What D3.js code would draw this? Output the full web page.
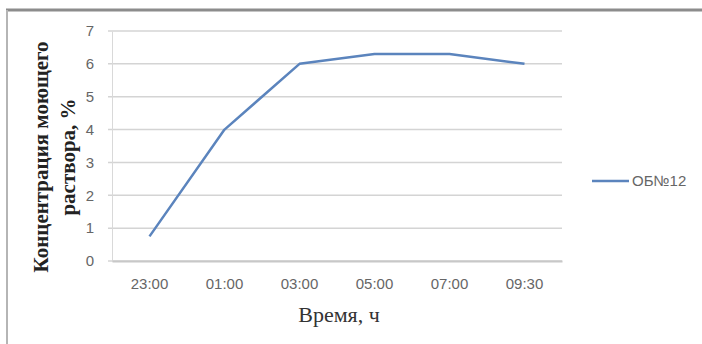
<!DOCTYPE html>
<html>
<head>
<meta charset="utf-8">
<script src="https://cdn.jsdelivr.net/npm/d3@7"></script>
<style>
  body { margin: 0; background: #fff; }
  svg { display: block; }
</style>
</head>
<body>
<svg width="702" height="344"></svg>
<script>
// chart data
const categories = ["23:00", "01:00", "03:00", "05:00", "07:00", "09:30"];
const values = [0.75, 4.0, 6.0, 6.3, 6.3, 6.0];
const yTicks = [0, 1, 2, 3, 4, 5, 6, 7];
const seriesName = "ОБ№12";
const yTitle = ["Концентрация моющего", "раствора, %"];
const xTitle = "Время, ч";

const svg = d3.select("svg");
const width = +svg.attr("width");
const height = +svg.attr("height");

const plot = { left: 112, right: 562, top: 31, bottom: 261 };

// frame of the chart
svg.append("rect").attr("x", 0).attr("y", 0).attr("width", width).attr("height", height).attr("fill", "#fff");
svg.append("line").attr("x1", 6).attr("x2", width).attr("y1", 10).attr("y2", 10)
  .attr("stroke", "#8c8c8c").attr("stroke-width", 3);
svg.append("line").attr("x1", 7).attr("x2", 7).attr("y1", 10).attr("y2", height)
  .attr("stroke", "#b5b5b5").attr("stroke-width", 2);

const x = d3.scaleBand()
  .domain(categories)
  .range([plot.left, plot.right]);

const y = d3.scaleLinear()
  .domain([0, 7])
  .range([plot.bottom, plot.top]);

// horizontal gridlines
svg.append("g")
  .selectAll("line")
  .data(yTicks)
  .enter()
  .append("line")
  .attr("x1", plot.left - 4)
  .attr("x2", plot.right)
  .attr("y1", d => y(d))
  .attr("y2", d => y(d))
  .attr("stroke", "#d4d4d4")
  .attr("stroke-width", 1.5);

// y axis
const yAxis = svg.append("g")
  .attr("transform", `translate(${plot.left},0)`)
  .call(d3.axisLeft(y).tickValues(yTicks).tickFormat(d3.format("d")).tickSize(0).tickPadding(18));
yAxis.select(".domain").attr("stroke", "#d9d9d9");
yAxis.selectAll("text")
  .attr("fill", "#666")
  .style("font-family", "'Liberation Sans', Arial, sans-serif")
  .style("font-size", "15px");

// x axis
const xAxis = svg.append("g")
  .attr("transform", `translate(0,${plot.bottom})`)
  .call(d3.axisBottom(x).tickSize(0).tickPadding(17));
xAxis.select(".domain").attr("stroke", "#c8c8c8").attr("stroke-width", 2);
xAxis.selectAll("text")
  .attr("fill", "#666")
  .style("font-family", "'Liberation Sans', Arial, sans-serif")
  .style("font-size", "15px");

// series line
const line = d3.line()
  .x((d, i) => x(categories[i]) + x.bandwidth() / 2)
  .y(d => y(d));

svg.append("path")
  .datum(values)
  .attr("d", line)
  .attr("fill", "none")
  .attr("stroke", "#5b84bd")
  .attr("stroke-width", 2.5)
  .attr("stroke-linejoin", "round");

// axis titles
const yt = svg.append("text")
  .attr("transform", "translate(55,157) rotate(-90)")
  .attr("text-anchor", "middle")
  .style("font-family", "'Liberation Serif', 'Times New Roman', serif")
  .style("font-weight", "bold")
  .style("font-size", "21px")
  .attr("fill", "#222");
yt.selectAll("tspan")
  .data(yTitle)
  .enter()
  .append("tspan")
  .attr("x", 0)
  .attr("dy", (d, i) => i === 0 ? -7 : 27)
  .text(d => d);

svg.append("text")
  .attr("x", 339)
  .attr("y", 322)
  .attr("text-anchor", "middle")
  .style("font-family", "'Liberation Serif', 'Times New Roman', serif")
  .style("font-size", "22px")
  .attr("fill", "#333")
  .text(xTitle);

// legend
const legend = svg.append("g").attr("transform", "translate(592,181)");
legend.append("line")
  .attr("x1", 0).attr("x2", 37)
  .attr("stroke", "#5b84bd").attr("stroke-width", 2.5);
legend.append("text")
  .attr("x", 40)
  .attr("dy", "0.35em")
  .style("font-family", "'Liberation Sans', Arial, sans-serif")
  .style("font-size", "15px")
  .attr("fill", "#666")
  .text(seriesName);
</script>
</body>
</html>
